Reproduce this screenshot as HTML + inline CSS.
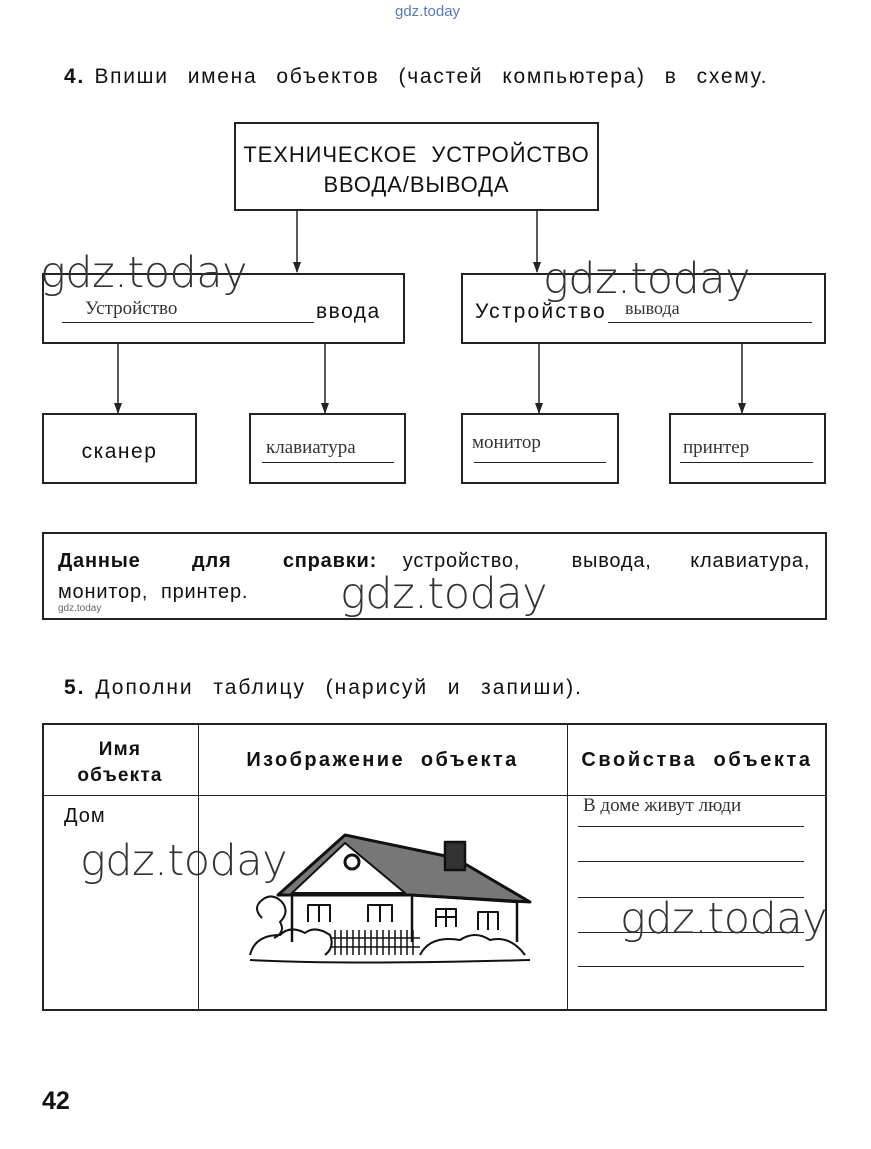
<!DOCTYPE html>
<html><head><meta charset="utf-8">
<style>
html,body{margin:0;padding:0;background:#fff;}
body{width:871px;height:1149px;position:relative;overflow:hidden;font-family:"Liberation Sans",sans-serif;color:#111;}
.a{position:absolute;white-space:nowrap;}
.box{position:absolute;border:2px solid #222;box-sizing:border-box;}
.wm{position:absolute;font-family:"DejaVu Sans","Liberation Sans",sans-serif;font-weight:200;font-size:43px;color:#333;letter-spacing:-0.5px;white-space:nowrap;}
.hw{font-family:"Liberation Serif",serif;font-size:19px;color:#333;}
.ul{position:absolute;border-top:1.5px solid #222;}
</style></head><body>
<div class="a" style="left:395px;top:3px;font-size:15px;color:#5a7bc0;">gdz.today</div>
<div class="a" style="left:64px;top:65px;font-size:21px;letter-spacing:1.7px;word-spacing:2px;"><b>4.</b> Впиши&nbsp; имена&nbsp; объектов&nbsp; (частей&nbsp; компьютера)&nbsp; в&nbsp; схему.</div>

<div class="box" style="left:234px;top:122px;width:365px;height:89px;"></div>
<div class="a" style="left:234px;width:365px;text-align:center;top:140px;font-size:22px;letter-spacing:0.9px;line-height:30px;">ТЕХНИЧЕСКОЕ&nbsp; УСТРОЙСТВО<br>ВВОДА/ВЫВОДА</div>

<svg class="a" style="left:0;top:0" width="871" height="1149">
<g stroke="#222" stroke-width="1.5">
<line x1="297" y1="211" x2="297" y2="272"/>
<line x1="537" y1="211" x2="537" y2="272"/>
<line x1="118" y1="343" x2="118" y2="413"/>
<line x1="325" y1="343" x2="325" y2="413"/>
<line x1="539" y1="343" x2="539" y2="413"/>
<line x1="742" y1="343" x2="742" y2="413"/>
</g>
<g fill="#222">
<path d="M293,262 L297,273 L301,262Z"/><path d="M533,262 L537,273 L541,262Z"/>
<path d="M114,403 L118,414 L122,403Z"/><path d="M321,403 L325,414 L329,403Z"/>
<path d="M535,403 L539,414 L543,403Z"/><path d="M738,403 L742,414 L746,403Z"/>
</g>
</svg>

<div class="box" style="left:42px;top:273px;width:363px;height:71px;"></div>
<div class="ul" style="left:62px;top:322px;width:252px;"></div>
<div class="a hw" style="left:85px;top:298px;">Устройство</div>
<div class="a" style="left:316px;top:300px;font-size:21px;letter-spacing:1.5px;">ввода</div>

<div class="box" style="left:461px;top:273px;width:365px;height:71px;"></div>
<div class="a" style="left:475px;top:300px;font-size:21px;letter-spacing:2.2px;">Устройство</div>
<div class="ul" style="left:608px;top:322px;width:204px;"></div>
<div class="a hw" style="left:625px;top:298px;font-size:18px;">вывода</div>

<div class="box" style="left:42px;top:413px;width:155px;height:71px;"></div>
<div class="a" style="left:42px;width:155px;text-align:center;top:440px;font-size:21px;letter-spacing:1.5px;">сканер</div>
<div class="box" style="left:249px;top:413px;width:157px;height:71px;"></div>
<div class="ul" style="left:262px;top:462px;width:132px;"></div>
<div class="a hw" style="left:266px;top:437px;">клавиатура</div>
<div class="box" style="left:461px;top:413px;width:158px;height:71px;"></div>
<div class="ul" style="left:474px;top:462px;width:132px;"></div>
<div class="a hw" style="left:472px;top:432px;">монитор</div>
<div class="box" style="left:669px;top:413px;width:157px;height:71px;"></div>
<div class="ul" style="left:680px;top:462px;width:133px;"></div>
<div class="a hw" style="left:683px;top:437px;">принтер</div>

<div class="box" style="left:42px;top:532px;width:785px;height:88px;"></div>
<div class="a" style="left:58px;top:550px;font-size:20px;letter-spacing:0.8px;word-spacing:6.5px;"><b>Данные&nbsp;&nbsp;&nbsp; для&nbsp;&nbsp;&nbsp; справки:</b>&nbsp; устройство,&nbsp;&nbsp;&nbsp; вывода,&nbsp;&nbsp; клавиатура,</div>
<div class="a" style="left:58px;top:581px;font-size:20px;letter-spacing:0.8px;">монитор,&nbsp; принтер.</div>
<div class="a" style="left:58px;top:603px;font-size:10px;color:#666;">gdz.today</div>

<div class="a" style="left:64px;top:676px;font-size:21px;letter-spacing:2px;word-spacing:2px;"><b>5.</b> Дополни&nbsp; таблицу&nbsp; (нарисуй&nbsp; и&nbsp; запиши).</div>

<div class="box" style="left:42px;top:723px;width:785px;height:288px;"></div>
<div class="a" style="left:198px;top:723px;width:0;height:288px;border-left:1.5px solid #222;"></div>
<div class="a" style="left:567px;top:723px;width:0;height:288px;border-left:1.5px solid #222;"></div>
<div class="a" style="left:42px;top:795px;width:785px;border-top:1.5px solid #222;"></div>
<div class="a" style="left:42px;width:156px;text-align:center;top:737px;font-size:19px;font-weight:bold;letter-spacing:1.2px;line-height:26px;">Имя<br>объекта</div>
<div class="a" style="left:198px;width:369px;text-align:center;top:749px;font-size:20px;font-weight:bold;letter-spacing:2.4px;">Изображение&nbsp; объекта</div>
<div class="a" style="left:567px;width:260px;text-align:center;top:749px;font-size:20px;font-weight:bold;letter-spacing:2.6px;">Свойства&nbsp; объекта</div>
<div class="a" style="left:64px;top:805px;font-size:20px;letter-spacing:1px;">Дом</div>
<div class="a hw" style="left:583px;top:795px;">В доме живут люди</div>
<div class="ul" style="left:578px;top:826px;width:226px;"></div>
<div class="ul" style="left:578px;top:861px;width:226px;"></div>
<div class="ul" style="left:578px;top:897px;width:226px;"></div>
<div class="ul" style="left:578px;top:932px;width:226px;"></div>
<div class="ul" style="left:578px;top:966px;width:226px;"></div>

<svg class="a" style="left:0;top:0" width="871" height="1149">
<g stroke="#111" fill="none" stroke-width="2.5" stroke-linejoin="round">
<path d="M278,895 L345,835 L455,858 L530,902 L410,895 Z" fill="#777" stroke-width="3"/>
<path d="M292,893 L345,843 L405,893 Z" fill="#fff" stroke-width="2"/>
<rect x="445" y="842" width="20" height="28" fill="#333"/>
<circle cx="352" cy="862" r="7" stroke-width="3"/>
<line x1="292" y1="893" x2="292" y2="942"/>
<line x1="412" y1="895" x2="412" y2="942"/>
<line x1="517" y1="902" x2="517" y2="942"/>
<line x1="412" y1="895" x2="517" y2="902"/>
<path d="M308,922 V905 H330 V922 M319,905 V922" stroke-width="2"/>
<path d="M368,922 V905 H392 V922 M380,905 V922" stroke-width="2"/>
<path d="M436,927 V909 H456 V927 M446,909 V927 M436,917 H456" stroke-width="2"/>
<path d="M478,930 V912 H498 V930 M488,912 V930" stroke-width="2"/>
<g stroke-width="1.5">
<path d="M335,955 V930 M341,955 V930 M347,955 V930 M353,955 V930 M359,955 V930 M365,955 V930 M371,955 V930 M377,955 V930 M383,955 V930 M389,955 V930 M395,955 V930 M401,955 V930 M407,955 V930 M413,955 V930 M332,938 H420 M332,947 H420"/>
</g>
<path d="M262,918 q-10,-10 0,-18 q10,-8 20,2 q8,10 -2,20 q6,10 -6,16" stroke-width="2"/>
<path d="M250,955 q5,-20 30,-20 q10,-10 25,-2 q10,-8 25,2 q5,12 -5,20 M420,955 q10,-20 40,-15 q15,-10 30,0 q20,-5 35,15 M250,960 q100,5 280,0" stroke-width="2"/>
</g>
</svg>

<div class="a" style="left:42px;top:1087px;font-size:25px;font-weight:bold;">42</div>

<div class="wm" style="left:40px;top:248px;">gdz.today</div>
<div class="wm" style="left:543px;top:254px;">gdz.today</div>
<div class="wm" style="left:340px;top:569px;">gdz.today</div>
<div class="wm" style="left:80px;top:836px;">gdz.today</div>
<div class="wm" style="left:620px;top:894px;">gdz.today</div>
</body></html>
